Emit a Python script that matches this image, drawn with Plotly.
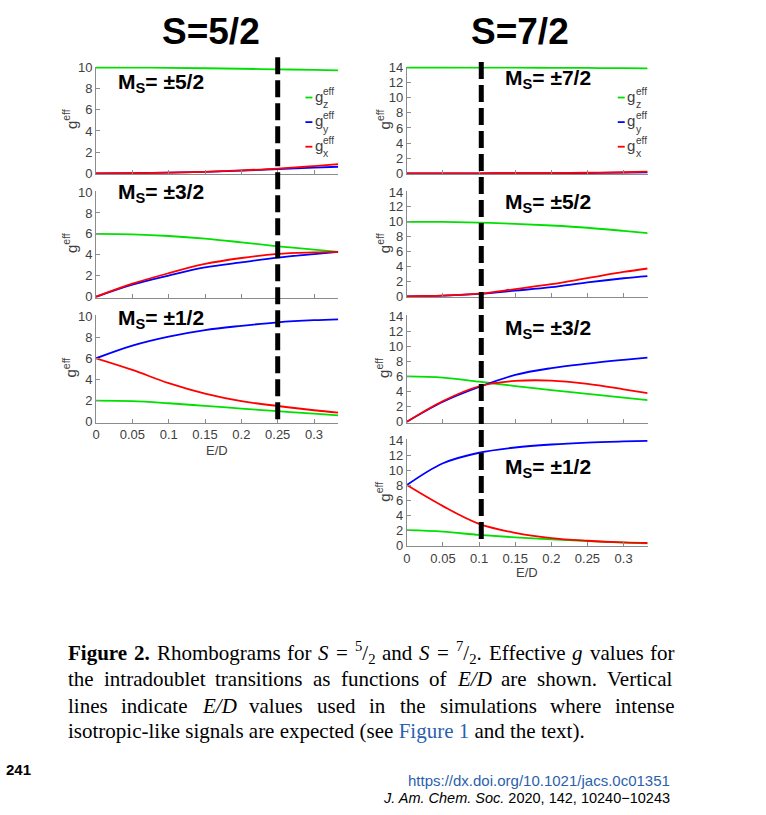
import plotly.graph_objects as go

W, H = 766, 815

# ---------------- data ----------------
ED = [0, 0.05, 0.1, 0.15, 0.2, 0.25, 0.3, 0.3333]
XTICKS = [0, 0.05, 0.1, 0.15, 0.2, 0.25, 0.3]
XTICK_LABELS = ["0", "0.05", "0.1", "0.15", "0.2", "0.25", "0.3"]

# S = 5/2
s52_m52_gz = [10, 9.99, 9.97, 9.93, 9.88, 9.83, 9.77, 9.73]
s52_m52_gy = [0, 0.02, 0.06, 0.13, 0.25, 0.40, 0.54, 0.62]
s52_m52_gx = [0, 0.02, 0.06, 0.14, 0.27, 0.44, 0.68, 0.86]

s52_m32_gz = [6.0, 5.95, 5.8, 5.55, 5.2, 4.82, 4.5, 4.29]
s52_m32_gy = [0, 1.16, 2.03, 2.8, 3.28, 3.74, 4.08, 4.29]
s52_m32_gx = [0, 1.25, 2.25, 3.13, 3.7, 4.1, 4.24, 4.29]

s52_m12_gz = [2.0, 1.95, 1.75, 1.5, 1.25, 1.0, 0.76, 0.61]
s52_m12_gy = [6.0, 7.2, 8.05, 8.67, 9.07, 9.4, 9.6, 9.68]
s52_m12_gx = [6.0, 4.9, 3.65, 2.66, 1.95, 1.49, 1.09, 0.86]

# S = 7/2
s72_m72_gz = [14, 14, 13.99, 13.98, 13.96, 13.94, 13.91, 13.89]
s72_m72_gy = [0, 0, 0, 0.01, 0.02, 0.04, 0.08, 0.12]
s72_m72_gx = [0, 0, 0, 0.01, 0.03, 0.07, 0.14, 0.22]

s72_m52_gz = [10, 9.98, 9.9, 9.73, 9.5, 9.2, 8.78, 8.49]
s72_m52_gy = [0, 0.08, 0.33, 0.76, 1.22, 1.87, 2.42, 2.71]
s72_m52_gx = [0, 0.08, 0.35, 0.97, 1.62, 2.44, 3.27, 3.73]

s72_m32_gz = [6.0, 5.85, 5.3, 4.72, 4.2, 3.7, 3.2, 2.85]
s72_m32_gy = [0, 2.65, 4.6, 6.2, 7.1, 7.7, 8.2, 8.5]
s72_m32_gx = [0, 2.75, 4.7, 5.4, 5.45, 5.0, 4.3, 3.8]

s72_m12_gz = [2.0, 1.8, 1.38, 1.05, 0.78, 0.55, 0.35, 0.25]
s72_m12_gy = [8.0, 10.9, 12.3, 13.0, 13.4, 13.65, 13.8, 13.88]
s72_m12_gx = [8.0, 5.2, 2.85, 1.65, 0.95, 0.6, 0.38, 0.3]

EXP_ED_S52 = 0.25
EXP_ED_S72 = 0.103

PANEL_LABELS = ["±5/2", "±3/2", "±1/2", "±7/2", "±5/2", "±3/2", "±1/2"]

# ---------------- styling ----------------
GREEN, BLUE, RED = "#00e000", "#0000ff", "#ff0000"
SANS = "Liberation Sans, Arial, sans-serif"
SERIF = "Liberation Serif, Times New Roman, serif"
AXC = "#8c8c8c"
TXC = "#404040"

panels = [
    # (xbox px, ybox px, ymax, data, label pos)
    ((92.5, 336), (62.5, 170), 10, (s52_m52_gz, s52_m52_gy, s52_m52_gx), (113, 78)),
    ((92.5, 336), (189, 295.5), 10, (s52_m32_gz, s52_m32_gy, s52_m32_gx), (113, 190)),
    ((92.5, 336), (315, 422.5), 10, (s52_m12_gz, s52_m12_gy, s52_m12_gx), (113, 318)),
    ((405, 647), (62.5, 170), 14, (s72_m72_gz, s72_m72_gy, s72_m72_gx), (502, 74)),
    ((405, 647), (189, 295), 14, (s72_m52_gz, s72_m52_gy, s72_m52_gx), (502, 200)),
    ((405, 647), (315, 422.5), 14, (s72_m32_gz, s72_m32_gy, s72_m32_gx), (502, 328)),
    ((405, 647), (441, 548), 14, (s72_m12_gz, s72_m12_gy, s72_m12_gx), (502, 469)),
]
bottom_panels = {2, 6}

fig = go.Figure()
layout = dict(
    width=W, height=H, margin=dict(l=0, r=0, t=0, b=0),
    paper_bgcolor="white", plot_bgcolor="white", showlegend=False,
    font=dict(family=SANS, color=TXC),
)
annotations = []
shapes = []

def px_x(x):
    return x / W

def px_y(y):
    return 1 - y / H

for i, (xb, yb, ymax, (gz, gy, gx), lab) in enumerate(panels):
    k = "" if i == 0 else str(i + 1)
    ppu = (yb[1] - yb[0]) / ymax
    pad = 1.0 / ppu
    layout["xaxis" + k] = dict(
        domain=[px_x(xb[0]), px_x(xb[1])], range=[0, 0.3333],
        anchor="y" + k, showgrid=False, zeroline=False,
        showline=True, linecolor=AXC, linewidth=1,
        ticks="inside", ticklen=4, tickcolor=AXC, tickwidth=1,
        tickvals=XTICKS, ticktext=XTICK_LABELS,
        showticklabels=(i in bottom_panels),
        tickfont=dict(size=13, color=TXC, family=SANS), fixedrange=True,
    )
    layout["yaxis" + k] = dict(
        domain=[px_y(yb[1] + 1), px_y(yb[0] - 1)], range=[-pad, ymax + pad],
        anchor="x" + k, showgrid=False, zeroline=False,
        showline=True, linecolor=AXC, linewidth=1,
        ticks="inside", ticklen=4, tickcolor=AXC, tickwidth=1,
        tickvals=list(range(0, ymax + 1, 2)),
        tickfont=dict(size=13, color=TXC, family=SANS), fixedrange=True,
    )
    for vals, col in ((gz, GREEN), (gy, BLUE), (gx, RED)):
        fig.add_trace(go.Scatter(
            x=ED, y=vals, mode="lines", xaxis="x" + k, yaxis="y" + k,
            line=dict(color=col, width=1.8, shape="spline", smoothing=1.0),
            hoverinfo="skip",
        ))
    # Ms label
    annotations.append(dict(
        x=px_x(lab[0]), y=px_y(lab[1]), xref="paper", yref="paper",
        xanchor="left", yanchor="middle", showarrow=False,
        text="<b>M<sub>S</sub>= " + PANEL_LABELS[i] + "</b>",
        font=dict(size=21, color="black", family=SANS),
    ))
    # y-axis title
    ycen = (yb[0] + yb[1]) / 2 - 1
    annotations.append(dict(
        x=px_x(66 if xb[0] < 200 else 381), y=px_y(ycen), xref="paper", yref="paper",
        xanchor="center", yanchor="middle", showarrow=False, textangle=-90,
        text="g<sup>eff</sup>", font=dict(size=15, color=TXC, family=SANS),
    ))

# x-axis titles
for xc, yc in ((214, 452), (526, 576)):
    annotations.append(dict(
        x=px_x(xc), y=px_y(yc), xref="paper", yref="paper", showarrow=False,
        xanchor="center", yanchor="middle", text="E/D",
        font=dict(size=13, color=TXC, family=SANS),
    ))

# big titles
for xc, txt in ((208, "S=5/2"), (519, "S=7/2")):
    annotations.append(dict(
        x=px_x(xc), y=px_y(26), xref="paper", yref="paper", showarrow=False,
        xanchor="center", yanchor="middle", text="<b>" + txt + "</b>",
        font=dict(size=37, color="black", family=SANS),
    ))

# legends (MATLAB-style, no box)
for lx in (303, 617):
    for ly, col, sub in ((93, GREEN, "z"), (118, BLUE, "y"), (143, RED, "x")):
        shapes.append(dict(type="line", xref="paper", yref="paper",
                           x0=px_x(lx), x1=px_x(lx + 7), y0=px_y(ly), y1=px_y(ly),
                           line=dict(color=col, width=1.8)))
        annotations.append(dict(x=px_x(lx + 7.5), y=px_y(ly - 1.5), xref="paper", yref="paper",
                                showarrow=False, xanchor="left", yanchor="middle", text="g",
                                font=dict(size=15, color=TXC, family=SANS)))
        annotations.append(dict(x=px_x(lx + 16), y=px_y(ly - 6.5), xref="paper", yref="paper",
                                showarrow=False, xanchor="left", yanchor="middle", text="eff",
                                font=dict(size=10, color=TXC, family=SANS)))
        annotations.append(dict(x=px_x(lx + 16), y=px_y(ly + 6.5), xref="paper", yref="paper",
                                showarrow=False, xanchor="left", yanchor="middle", text=sub,
                                font=dict(size=10.5, color=TXC, family=SANS)))

# dashed vertical lines at the simulated E/D values
shapes.append(dict(type="line", xref="x", yref="paper", x0=EXP_ED_S52, x1=EXP_ED_S52,
                   y0=px_y(52), y1=px_y(421), layer="above",
                   line=dict(color="black", width=5, dash="17px,6px")))
shapes.append(dict(type="line", xref="x4", yref="paper", x0=EXP_ED_S72, x1=EXP_ED_S72,
                   y0=px_y(57), y1=px_y(546), layer="above",
                   line=dict(color="black", width=5, dash="17px,6px")))

# ---------------- caption (justified, Times metrics) ----------------
REG = dict(zip("abcdefghijklmnopqrstuvwxyz",
               [444, 500, 444, 500, 444, 333, 500, 500, 278, 278, 500, 278, 778,
                500, 500, 500, 500, 333, 389, 278, 500, 500, 722, 500, 500, 444]))
REG.update(dict(zip("ABCDEFGHIJKLMNOPQRSTUVWXYZ",
                    [722, 667, 667, 722, 611, 556, 722, 722, 333, 389, 722, 611, 889,
                     722, 722, 556, 722, 667, 556, 611, 722, 722, 944, 722, 722, 611])))
REG.update({" ": 250, ".": 250, ",": 250, "/": 278, "=": 564, "(": 333, ")": 333, "-": 333})
for d in "0123456789":
    REG[d] = 500
BOLD = dict(REG)
BOLD.update({"F": 611, "u": 556, "r": 444, "i": 278, "g": 500, "e": 444})
ITAL = dict(REG)
ITAL.update({"S": 500, "E": 611, "D": 722, "g": 500})

CAP_SIZE = 21
CAP_X0, CAP_X1 = 62, 672

def seg_w(text, style, pos):
    tab = BOLD if style == "b" else ITAL if style == "i" else REG
    w = sum(tab.get(c, 500) for c in text) / 1000.0 * CAP_SIZE
    return w * (0.7 if pos in ("sup", "sub") else 1.0)

def seg_html(text, style, pos):
    t = text
    if style == "b":
        t = "<b>" + t + "</b>"
    elif style == "i":
        t = "<i>" + t + "</i>"
    if pos == "sup":
        t = "<sup>" + t + "</sup>"
    elif pos == "sub":
        t = "<sub>" + t + "</sub>"
    return t

def T(*segs):
    out = []
    for s in segs:
        if isinstance(s, str):
            out.append((s, "r", "n"))
        else:
            out.append(s)
    return out

lines = [
    [T(("Figure", "b", "n")), T(("2.", "b", "n")), T("Rhombograms"), T("for"),
     T(("S", "i", "n")), T("="), T(("5", "r", "sup"), "/", ("2", "r", "sub")), T("and"),
     T(("S", "i", "n")), T("="), T(("7", "r", "sup"), "/", ("2", "r", "sub"), "."),
     T("Effective"), T(("g", "i", "n")), T("values"), T("for")],
    [T("the"), T("intradoublet"), T("transitions"), T("as"), T("functions"), T("of"),
     T(("E/D", "i", "n")), T("are"), T("shown."), T("Vertical")],
    [T("lines"), T("indicate"), T(("E/D", "i", "n")), T("values"), T("used"), T("in"),
     T("the"), T("simulations"), T("where"), T("intense")],
]
line_y = [657, 684, 711]
for toks, ly in zip(lines, line_y):
    widths = [sum(seg_w(*s) for s in tok) for tok in toks]
    gap = (CAP_X1 - CAP_X0 - sum(widths)) / (len(toks) - 1)
    x = CAP_X0
    for tok, w in zip(toks, widths):
        annotations.append(dict(
            x=px_x(x), y=px_y(ly), xref="paper", yref="paper", showarrow=False,
            xanchor="left", yanchor="middle", text="".join(seg_html(*s) for s in tok),
            font=dict(size=CAP_SIZE, color="black", family=SERIF),
        ))
        x += w + gap

annotations.append(dict(
    x=px_x(CAP_X0), y=px_y(737), xref="paper", yref="paper", showarrow=False,
    xanchor="left", yanchor="middle",
    text="isotropic-like signals are expected (see <span style='color:#2b5fad'>Figure 1</span> and the text).",
    font=dict(size=CAP_SIZE, color="black", family=SERIF),
))

# footer
annotations.append(dict(x=px_x(0), y=px_y(776), xref="paper", yref="paper", showarrow=False,
                        xanchor="left", yanchor="middle", text="<b>241</b>",
                        font=dict(size=15, color="black", family=SANS)))
annotations.append(dict(x=px_x(672), y=px_y(787), xref="paper", yref="paper", showarrow=False,
                        xanchor="right", yanchor="middle",
                        text="https://dx.doi.org/10.1021/jacs.0c01351",
                        font=dict(size=15, color="#2b5fad", family=SANS)))
annotations.append(dict(x=px_x(672), y=px_y(805), xref="paper", yref="paper", showarrow=False,
                        xanchor="right", yanchor="middle",
                        text="<i>J. Am. Chem. Soc.</i> 2020, 142, 10240\u221210243",
                        font=dict(size=14.5, color="black", family=SANS)))

layout["annotations"] = annotations
layout["shapes"] = shapes
fig.update_layout(**layout)
fig.write_html("out.html", config={"displayModeBar": False},
               post_script="document.body.style.margin='0px';document.body.style.overflow='hidden';")
